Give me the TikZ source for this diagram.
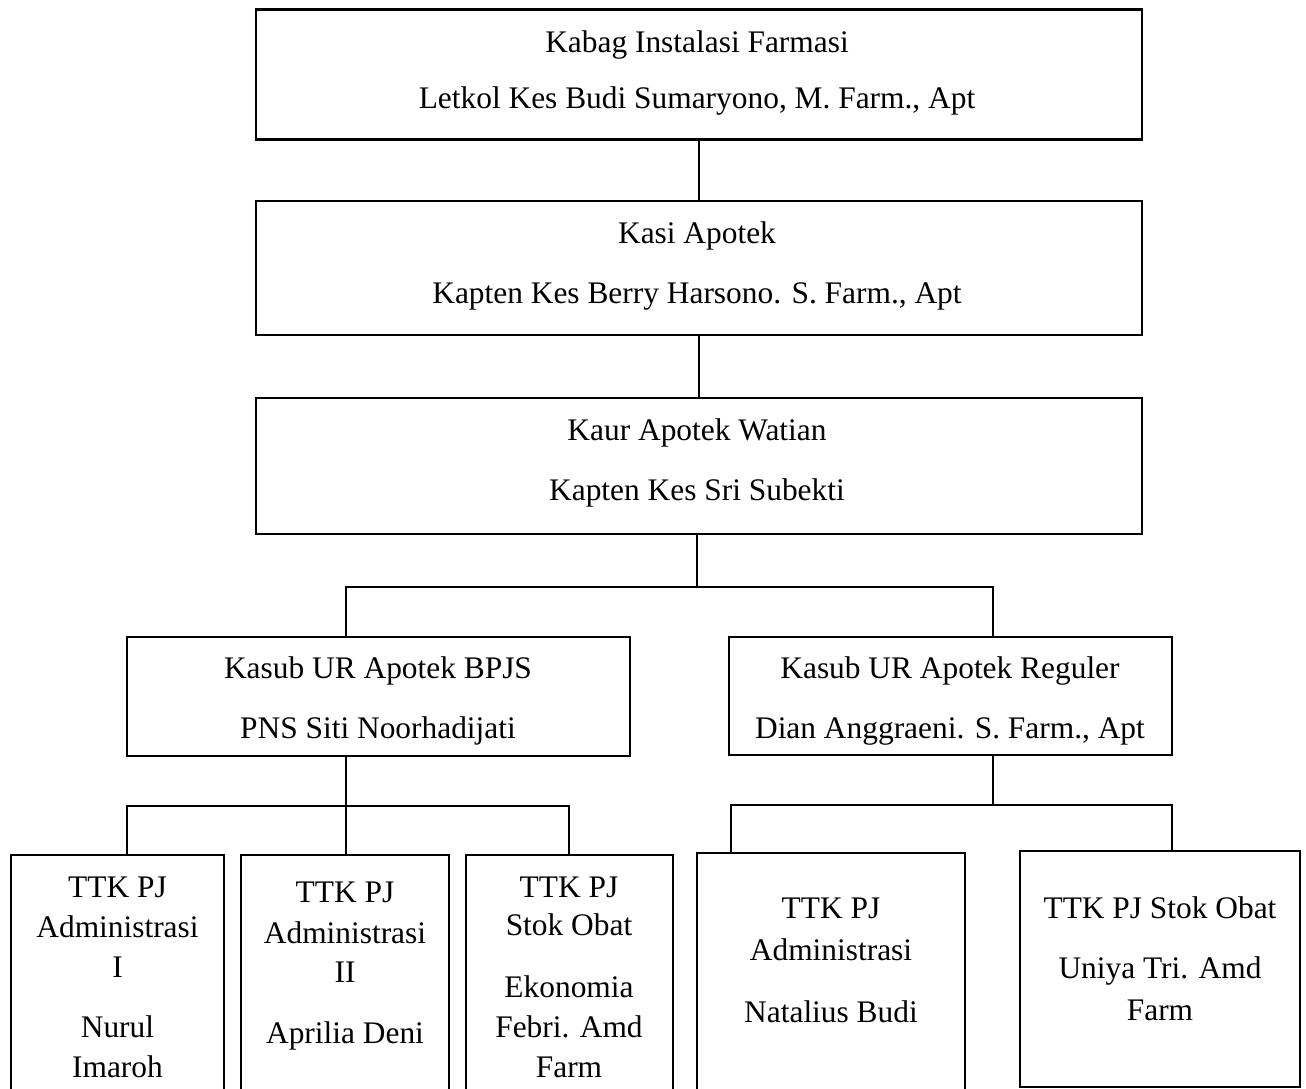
\documentclass[tikz,border=0pt]{standalone}
\usepackage{fontspec}
\setmainfont{Liberation Serif}
\begin{document}
\begin{tikzpicture}[x=1pt,y=-1pt,
  unit/.style={draw=black, line width=2.4pt, rectangle, inner sep=0pt},
  lbl/.style={anchor=base, inner sep=0pt, font=\fontsize{31.4}{40}\selectfont},
  link/.style={draw=black, line width=2.4pt}]
\useasboundingbox (0,0) rectangle (1306,1088);
\clip (0,0) rectangle (1306,1088);

% upper chain of command
\node[unit, minimum width=886pt, minimum height=130pt] (A) at (699,74.5) {};
\node[unit, minimum width=886pt, minimum height=134pt] (B) at (699,268) {};
\node[unit, minimum width=886pt, minimum height=136pt] (C) at (699,466) {};

% sub-units
\node[unit, minimum width=503pt, minimum height=119pt] (D) at (378.5,696.5) {};
\node[unit, minimum width=443pt, minimum height=118pt] (E) at (950.5,696) {};

% staff boxes (running past the lower edge)
\node[unit, minimum width=213pt, minimum height=265pt] (T1) at (117.5,987.5) {};
\node[unit, minimum width=208pt, minimum height=265pt] (T2) at (345,987.5) {};
\node[unit, minimum width=207pt, minimum height=265pt] (T3) at (569.5,987.5) {};
\node[unit, minimum width=268pt, minimum height=267pt] (T4) at (831,986.5) {};
\node[unit, minimum width=280pt, minimum height=236pt] (T5) at (1160,969) {};

% junction points
\coordinate (jC)  at (697,587);
\coordinate (jCl) at (346,587);
\coordinate (jCr) at (993,587);
\coordinate (jD)  at (346,806);
\coordinate (jDl) at (127,806);
\coordinate (jDr) at (569,806);
\coordinate (jE)  at (993,805);
\coordinate (jEl) at (731,805);
\coordinate (jEr) at (1172,805);

% connectors
\draw[link] (A) -- (B);
\draw[link] (B) -- (C);
\draw[link] (C.south -| jC) -- (jC);
\draw[link] (jCl |- D.north) -- (jCl) -- (jCr) -- (jCr |- E.north);
\draw[link] (jD |- D.south) -- (jD) -- (jD |- T2.north);
\draw[link] (jDl |- T1.north) -- (jDl) -- (jDr) -- (jDr |- T3.north);
\draw[link] (jE |- E.south) -- (jE);
\draw[link] (jEl |- T4.north) -- (jEl) -- (jEr) -- (jEr |- T5.north);

% labels
\node[lbl] (a1) at (697,52)  {Kabag Instalasi Farmasi};
\node[lbl] (a2) at (697,108) {Letkol Kes Budi Sumaryono, M. Farm., Apt};
\node[lbl] (b1) at (697,243) {Kasi Apotek};
\node[lbl] (b2) at (697,303) {Kapten Kes Berry Harsono. S. Farm., Apt};
\node[lbl] (c1) at (697,440) {Kaur Apotek Watian};
\node[lbl] (c2) at (697,500) {Kapten Kes Sri Subekti};
\node[lbl] (d1) at (378,678) {Kasub UR Apotek BPJS};
\node[lbl] (d2) at (378,738) {PNS Siti Noorhadijati};
\node[lbl] (e1) at (950,678) {Kasub UR Apotek Reguler};
\node[lbl] (e2) at (950,738) {Dian Anggraeni. S. Farm., Apt};

\node[lbl] (t11) at (117.5,897)  {TTK PJ};
\node[lbl] (t12) at (117.5,937)  {Administrasi};
\node[lbl] (t13) at (117.5,977)  {I};
\node[lbl] (t14) at (117.5,1037) {Nurul};
\node[lbl] (t15) at (117.5,1077) {Imaroh};

\node[lbl] (t21) at (345,902)  {TTK PJ};
\node[lbl] (t22) at (345,943)  {Administrasi};
\node[lbl] (t23) at (345,982)  {II};
\node[lbl] (t24) at (345,1043) {Aprilia Deni};

\node[lbl] (t31) at (569,897)  {TTK PJ};
\node[lbl] (t32) at (569,935)  {Stok Obat};
\node[lbl] (t33) at (569,997)  {Ekonomia};
\node[lbl] (t34) at (569,1037) {Febri. Amd};
\node[lbl] (t35) at (569,1077) {Farm};

\node[lbl] (t41) at (831,918)  {TTK PJ};
\node[lbl] (t42) at (831,960)  {Administrasi};
\node[lbl] (t43) at (831,1022) {Natalius Budi};

\node[lbl] (t51) at (1160,918)  {TTK PJ Stok Obat};
\node[lbl] (t52) at (1160,978)  {Uniya Tri. Amd};
\node[lbl] (t53) at (1160,1020) {Farm};
\end{tikzpicture}
\end{document}
